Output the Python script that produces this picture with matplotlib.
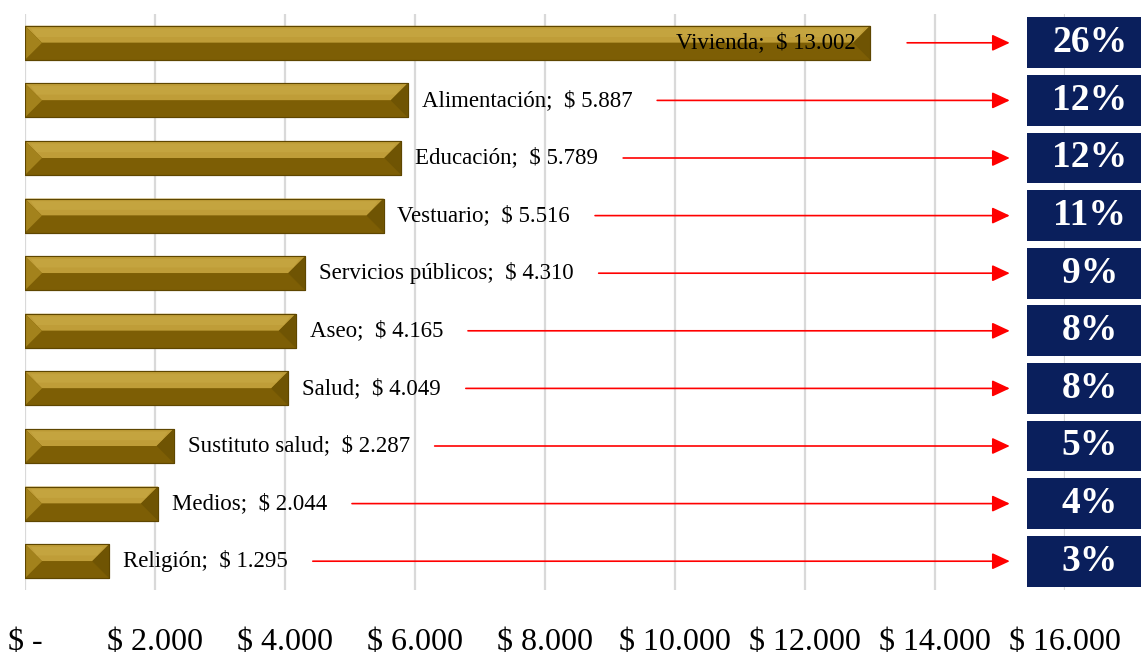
import matplotlib
matplotlib.use("Agg")
import matplotlib.pyplot as plt
from matplotlib.patches import Polygon, Rectangle
from matplotlib.ticker import FuncFormatter
import numpy as np

# ---- data ----
categories = ["Vivienda", "Alimentación", "Educación", "Vestuario", "Servicios públicos",
              "Aseo", "Salud", "Sustituto salud", "Medios", "Religión"]
values = [13002, 5887, 5789, 5516, 4310, 4165, 4049, 2287, 2044, 1295]
percents = [26, 12, 12, 11, 9, 8, 8, 5, 4, 3]
x_ticks = [0, 2000, 4000, 6000, 8000, 10000, 12000, 14000, 16000]

# ---- style ----
SERIF = ["Liberation Serif", "DejaVu Serif"]
plt.rcParams["font.family"] = SERIF
W, H, DPI = 1141, 666, 100
fig = plt.figure(figsize=(W / DPI, H / DPI), dpi=DPI)
ax = fig.add_axes([25 / W, 76 / H, 1040 / W, 576 / H])

n = len(categories)
ypos = np.arange(n)
bar_h = 0.59
ax.set_xlim(0, 16000)
ax.set_ylim(n - 0.5, -0.5)

# pixel scaling for bevel
px_per_x = 1040 / 16000.0
px_per_y = 576 / float(n)
bevel_x = (bar_h / 2) * px_per_y / px_per_x

# base bars
ax.barh(ypos, values, height=bar_h, color="#7d5e05", edgecolor="#5e4600",
        linewidth=0.8, zorder=3)

c_top, c_bot, c_left, c_right = "#bf9d38", "#7d5e05", "#a3821c", "#6f5403"
for yi, v in zip(ypos, values):
    t, b, m = yi - bar_h / 2, yi + bar_h / 2, yi
    bx = min(bevel_x, v / 2)
    x0, x1 = 0, v
    facets = [
        ([(x0, t), (x1, t), (x1 - bx, m), (x0 + bx, m)], c_top),
        ([(x0, b), (x1, b), (x1 - bx, m), (x0 + bx, m)], c_bot),
        ([(x0, t), (x0, b), (x0 + bx, m)], c_left),
        ([(x1, t), (x1, b), (x1 - bx, m)], c_right),
    ]
    for pts, col in facets:
        ax.add_patch(Polygon(pts, closed=True, facecolor=col, edgecolor="none", zorder=4))
    ax.add_patch(Polygon([(x0 + bx * 0.35, t + bar_h * 0.08), (x1 - bx * 0.35, t + bar_h * 0.08),
                          (x1 - bx * 0.7, t + bar_h * 0.33), (x0 + bx * 0.7, t + bar_h * 0.33)],
                         closed=True, facecolor="#c9aa45", edgecolor="none", zorder=4.5, alpha=0.6))
    ax.add_patch(Rectangle((x0, t), v, bar_h, facecolor="none", edgecolor="#5e4600",
                           linewidth=0.8, zorder=5))

# labels
label_fs = 16.5
vmax = max(values)
texts = []
for yi, cat, v in zip(ypos, categories, values):
    s = f"{cat};  $ {v:,.0f}".replace(",", ".")
    if v == vmax:
        tx = ax.annotate(s, xy=(v, yi), xytext=(-10, 0), textcoords="offset points",
                         ha="right", va="center", fontsize=label_fs, zorder=6)
    else:
        tx = ax.annotate(s, xy=(v, yi), xytext=(10, 0), textcoords="offset points",
                         ha="left", va="center", fontsize=label_fs, zorder=6)
    texts.append(tx)

# ticks / grid
ax.set_xticks(x_ticks)
ax.xaxis.set_major_formatter(FuncFormatter(
    lambda v, p: "$ -" if v == 0 else ("$ " + f"{v:,.0f}".replace(",", "."))))
ax.tick_params(axis="x", length=0, pad=27, labelsize=23)
ax.set_yticks([])
ax.grid(axis="x", color="#d9d9d9", linewidth=1.6, zorder=0)
ax.set_axisbelow(True)
for sp in ax.spines.values():
    sp.set_visible(False)

# percent boxes
box_x0 = 15415
box_x1 = 17300
box_h = 0.885
text_x = 16380
for yi, p in zip(ypos, percents):
    ax.add_patch(Rectangle((box_x0, yi - box_h / 2), box_x1 - box_x0, box_h,
                           facecolor="#0a1f5c", edgecolor="none", zorder=6, clip_on=False))
    ax.text(text_x, yi, f"{p}%", color="white", fontsize=27,
            fontweight="bold", ha="center", va="center", zorder=7, clip_on=False)

# arrows
fig.canvas.draw()
renderer = fig.canvas.get_renderer()
inv = ax.transData.inverted()
arrow_end = 15150
for yi, v, tx in zip(ypos, values, texts):
    if v == vmax:
        start_px = ax.transData.transform((v, yi))[0] + 37
    else:
        start_px = tx.get_window_extent(renderer).x1 + 25
    start_x = inv.transform((start_px, 0))[0]
    ax.annotate("", xy=(arrow_end, yi), xytext=(start_x, yi),
                arrowprops=dict(arrowstyle="-|>,head_length=0.6,head_width=0.28",
                                color="#ff0000", lw=1.2, mutation_scale=18,
                                shrinkA=0, shrinkB=0), zorder=5)

fig.savefig("out.png", dpi=DPI)
